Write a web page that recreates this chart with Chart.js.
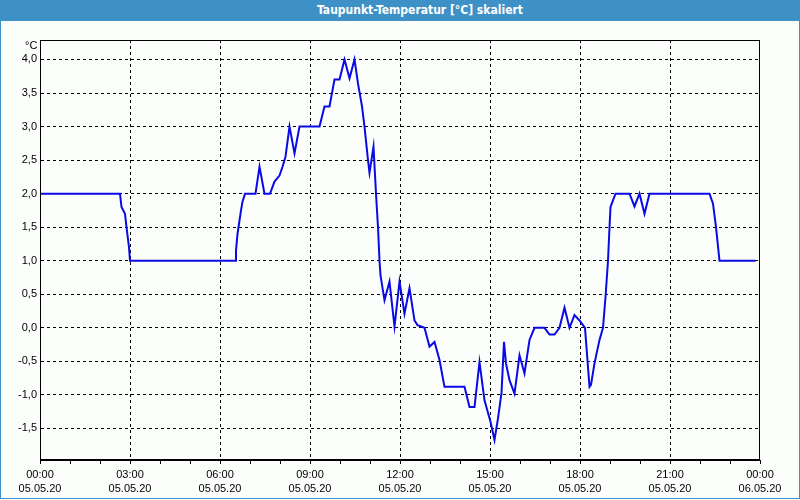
<!DOCTYPE html>
<html>
<head>
<meta charset="utf-8">
<script src="https://cdn.jsdelivr.net/npm/chart.js@4/dist/chart.umd.min.js"></script>
<style>
  html, body { margin: 0; padding: 0; background: #fcfefc; }
  #wrap { position: relative; width: 800px; height: 500px; overflow: hidden; background: #fcfefc; }
  #bar { position: absolute; left: 0; top: 0; width: 800px; height: 21px; background: #3d91c6;
         color: #fff; font: bold 12px "DejaVu Sans Condensed", "DejaVu Sans", sans-serif;
         line-height: 21px; text-align: center; text-indent: 40px; }
  #frame { position: absolute; left: 0; top: 21px; width: 798px; height: 477px;
           border: 1px solid #3d91c6; border-top: none; pointer-events: none; }
  #unit { position: absolute; left: 25px; top: 39px; font: 11px "Liberation Sans", sans-serif; color: #000; }
  canvas { position: absolute; left: 0; top: 0; }
</style>
</head>
<body>
<div id="wrap">
  <canvas id="c" width="800" height="500"></canvas>
  <div id="bar">Taupunkt-Temperatur [°C] skaliert</div>
  <div id="frame"></div>
  <div id="unit">°C</div>
</div>
<script>
// Minutes since 05.05.20 00:00
const minutes = [0,160,163,170,173,178,180,390,392,395,399,402,405,410,431,439,449,460,469,479,485,491,499,509,519,559,569,579,589,599,609,619,629,636,644,649,656,659,667,672,676,679,681,689,699,709,719,729,739,749,755,769,779,789,799,809,849,859,869,879,889,901,909,916,923,928,932,939,949,959,969,979,989,1009,1019,1029,1039,1049,1059,1069,1079,1090,1099,1102,1109,1119,1126,1131,1136,1139,1141,1146,1151,1179,1189,1199,1209,1219,1339,1346,1352,1359,1431];
const dewpoint = [2.0,2.0,1.8,1.7,1.5,1.2,1.0,1.0,1.15,1.4,1.6,1.75,1.88,2.0,2.0,2.4,2.0,2.0,2.18,2.27,2.4,2.55,3.0,2.6,3.0,3.0,3.3,3.3,3.7,3.7,4.0,3.72,4.0,3.64,3.3,3.0,2.5,2.31,2.7,2.0,1.5,1.0,0.78,0.41,0.69,0.02,0.69,0.21,0.59,0.11,0.04,0.0,-0.28,-0.21,-0.48,-0.88,-0.88,-1.18,-1.18,-0.51,-1.08,-1.4,-1.67,-1.35,-0.97,-0.21,-0.53,-0.78,-0.98,-0.41,-0.68,-0.18,0.0,0.0,-0.1,-0.1,0.0,0.3,0.0,0.19,0.11,0.0,-0.88,-0.85,-0.53,-0.18,0.0,0.46,1.0,1.5,1.8,1.9,2.0,2.0,1.81,2.0,1.7,2.0,2.0,1.85,1.5,1.0,1.0];
const yTicks = [-1.5,-1.0,-0.5,0.0,0.5,1.0,1.5,2.0,2.5,3.0,3.5,4.0];
const xTimeLabels = {0:'00:00',180:'03:00',360:'06:00',540:'09:00',720:'12:00',900:'15:00',1080:'18:00',1260:'21:00',1440:'00:00'};
const xDateLabels = {0:'05.05.20',180:'05.05.20',360:'05.05.20',540:'05.05.20',720:'05.05.20',900:'05.05.20',1080:'05.05.20',1260:'05.05.20',1440:'06.05.20'};

const points = minutes.map((m, i) => ({x: m, y: dewpoint[i]}));

const boxPlugin = {
  id: 'box',
  afterDraw(chart) {
    const a = chart.chartArea, ctx = chart.ctx;
    ctx.save();
    ctx.strokeStyle = '#000';
    ctx.lineWidth = 1;
    ctx.strokeRect(a.left + 0.5, a.top + 0.5, a.right - a.left - 1, a.bottom - a.top - 1);
    ctx.restore();
  }
};

new Chart(document.getElementById('c'), {
  type: 'line',
  data: {
    datasets: [{
      data: points,
      borderColor: '#0a0ae6',
      borderWidth: 2,
      pointRadius: 0,
      tension: 0,
      fill: false
    }]
  },
  options: {
    responsive: false,
    animation: false,
    layout: { padding: { left: 0, right: 40, top: 40, bottom: 0 } },
    plugins: { legend: { display: false }, tooltip: { enabled: false }, title: { display: false } },
    scales: {
      x: {
        type: 'linear',
        min: 0, max: 1440,
        afterFit(s) { s.height = 40; },
        ticks: {
          stepSize: 60,
          autoSkip: false,
          maxRotation: 0,
          padding: 3,
          color: '#000',
          font: { family: 'Liberation Sans', size: 11, lineHeight: 1.36 },
          callback(v) { return (v in xTimeLabels) ? [xTimeLabels[v], xDateLabels[v]] : ''; }
        },
        grid: {
          color: (ctx) => (ctx.tick && ctx.tick.value % 180 === 0 && ctx.tick.value !== 0 && ctx.tick.value !== 1440) ? '#000' : 'rgba(0,0,0,0)',
          tickColor: '#000',
          tickLength: 4,
          lineWidth: 1
        },
        border: { display: true, color: '#000', dash: [3, 3] }
      },
      y: {
        min: -1.97, max: 4.29,
        afterFit(s) { s.width = 40; },
        afterBuildTicks(s) { s.ticks = yTicks.map(v => ({value: v})); },
        ticks: {
          padding: 3,
          color: '#000',
          font: { family: 'Liberation Sans', size: 11 },
          callback(v) { return v.toFixed(1).replace('.', ','); }
        },
        grid: { color: '#000', drawTicks: false, lineWidth: 1 },
        border: { display: true, color: '#000', dash: [3, 3] }
      }
    }
  },
  plugins: [boxPlugin]
});
</script>
</body>
</html>
